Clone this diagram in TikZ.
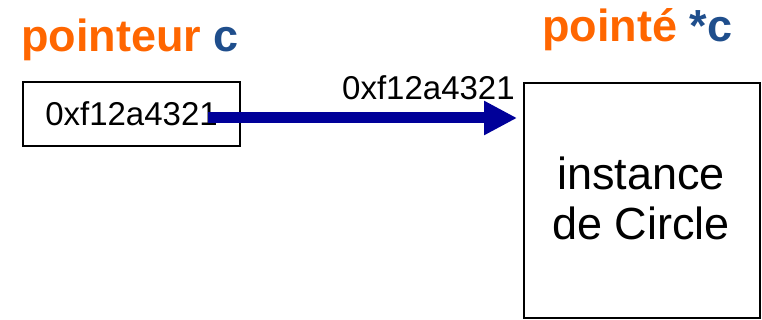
\documentclass[tikz,border=0pt]{standalone}
\usepackage{fontspec}
\setmainfont{Liberation Sans}
\usetikzlibrary{arrows.meta}
\definecolor{ptorange}{RGB}{255,102,0}
\definecolor{ptblue}{RGB}{31,78,140}
\definecolor{arrownavy}{RGB}{0,0,153}
\tikzset{
  membox/.style={draw=black, line width=1.8pt, inner sep=0pt},
  title/.style={font=\bfseries\fontsize{45}{50}\selectfont, inner sep=0pt, anchor=base west},
  addrtxt/.style={font=\fontsize{33}{36}\selectfont, inner sep=0pt},
  bodytxt/.style={font=\fontsize{45}{50}\selectfont, inner sep=0pt, anchor=base},
  ptrarrow/.style={draw=arrownavy, line width=11pt, -{Triangle[length=33pt,width=32pt]}}
}
\begin{document}
\begin{tikzpicture}[x=1pt,y=-1pt]
\useasboundingbox (0,0) rectangle (762,320);
\node[title] (t1) at (21,52) {\textcolor{ptorange}{pointeur} \textcolor{ptblue}{c}};
\node[title] (t2) at (542,42) {\textcolor{ptorange}{pointé} \textcolor{ptblue}{*c}};
\node[membox, minimum width=217pt, minimum height=64pt, addrtxt] (ptr) at (131.5,114) {0xf12a4321};
\node[membox, minimum width=236pt, minimum height=235pt] (obj) at (642,200.5) {};
\node[bodytxt] (objtxt1) at (641,190) {instance};
\node[bodytxt] (objtxt2) at (641,240) {de Circle};
\node[addrtxt, anchor=base west] (addr) at (342,100) {0xf12a4321};
\coordinate (src) at (208,118);
\draw[ptrarrow, shorten >=6pt] (src) -- (src -| obj.west);
\end{tikzpicture}
\end{document}
